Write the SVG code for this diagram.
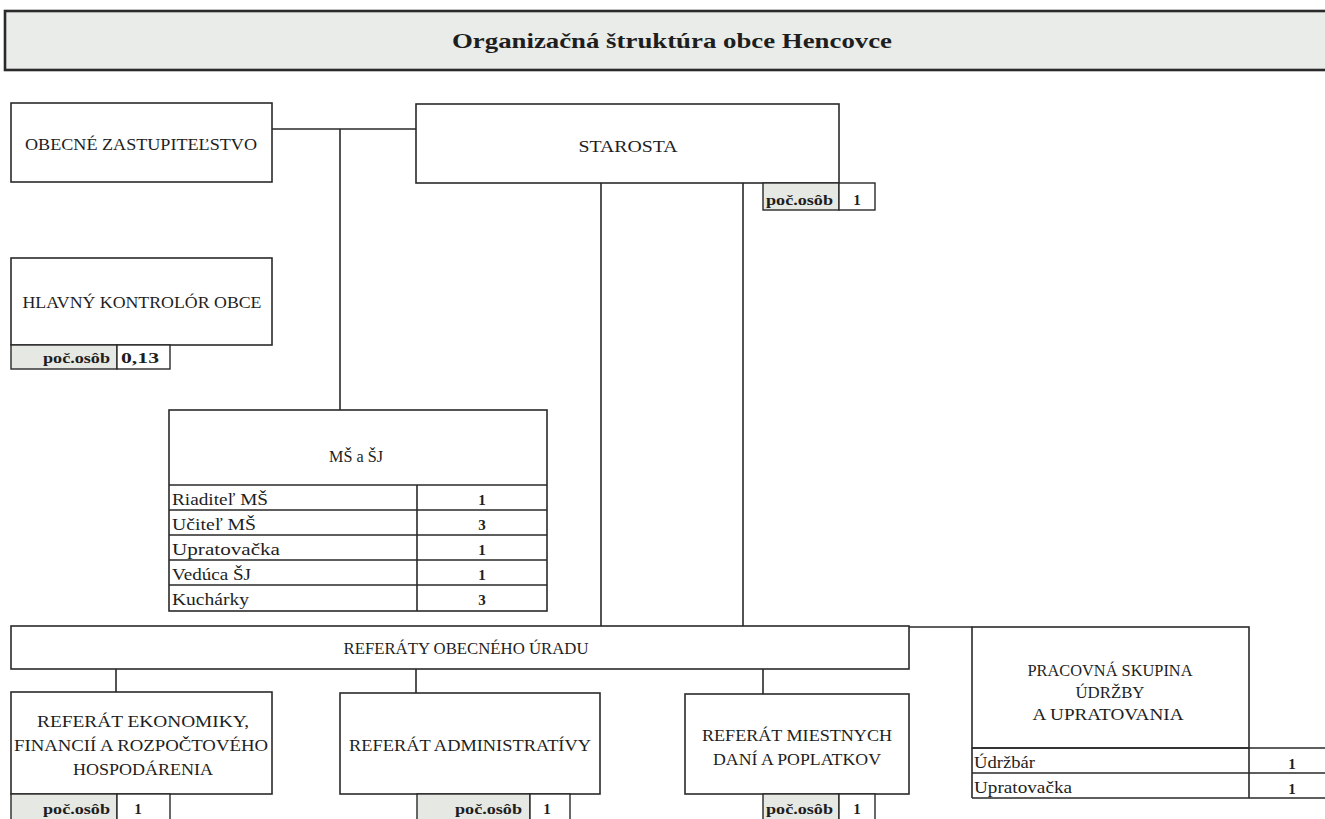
<svg xmlns="http://www.w3.org/2000/svg" width="1325" height="819" viewBox="0 0 1325 819">
<style>
.bx{fill:#fff;stroke:#2a2a2a;stroke-width:1.6}
.cell{fill:#e6e8e4;stroke:#2a2a2a;stroke-width:1.4}
.vcell{fill:#fff;stroke:#2a2a2a;stroke-width:1.4}
.ln{stroke:#2a2a2a;stroke-width:1.6;fill:none}
text{font-family:"Liberation Serif","DejaVu Serif",serif;fill:#1e1e1e}
.t{font-size:17px;text-anchor:middle}
.s{font-size:17px}
.sb{font-size:15px;font-weight:bold}
.c{text-anchor:middle}
.e{text-anchor:end}
</style>
<rect width="1325" height="819" fill="#fff"/>
<g id="title">
<rect x="5" y="11" width="1330" height="59" fill="#e9ece8" stroke="#2a2a2a" stroke-width="2.6"/>
<text x="672" y="48" font-size="21" font-weight="bold" text-anchor="middle" textLength="440" lengthAdjust="spacingAndGlyphs">Organizačná štruktúra obce Hencovce</text>
</g>
<g id="connectors">
<path class="ln" d="M272 129H416M340 129V410M601 183V626M743 183V626M909 627H972M116 669V692M416 669V693M763 669V694"/>
</g>
<g id="zastupitelstvo">
<rect class="bx" x="11" y="103" width="261" height="79"/>
<text class="t" x="141" y="150" textLength="232" lengthAdjust="spacingAndGlyphs">OBECNÉ ZASTUPITEĽSTVO</text>
</g>
<g id="starosta">
<rect class="bx" x="416" y="104" width="423" height="79"/>
<text class="t" x="628" y="152" textLength="99" lengthAdjust="spacingAndGlyphs">STAROSTA</text>
<rect class="cell" x="763" y="183" width="76" height="27"/>
<rect class="vcell" x="839" y="183" width="36" height="27"/>
<text class="sb" x="766" y="205" textLength="67" lengthAdjust="spacingAndGlyphs">poč.osôb</text>
<text class="sb c" x="857" y="205">1</text>
</g>
<g id="kontrolor">
<rect class="bx" x="11" y="258" width="261" height="87"/>
<text class="t" x="142" y="308" textLength="239" lengthAdjust="spacingAndGlyphs">HLAVNÝ KONTROLÓR OBCE</text>
<rect class="cell" x="11" y="345" width="106" height="24"/>
<rect class="vcell" x="117" y="345" width="53" height="24"/>
<text class="sb e" x="110" y="363" textLength="67" lengthAdjust="spacingAndGlyphs">poč.osôb</text>
<text class="sb" x="121" y="363" textLength="38" lengthAdjust="spacingAndGlyphs">0,13</text>
</g>
<g id="ms-sj">
<rect class="bx" x="169" y="410" width="378" height="201"/>
<text class="t" x="356" y="462" textLength="54" lengthAdjust="spacingAndGlyphs">MŠ a ŠJ</text>
<path class="ln" d="M169 485H547M169 510H547M169 535H547M169 560H547M169 585H547M417 485V611"/>
<text class="s" x="172" y="505" textLength="96" lengthAdjust="spacingAndGlyphs">Riaditeľ MŠ</text>
<text class="s" x="172" y="530" textLength="84" lengthAdjust="spacingAndGlyphs">Učiteľ MŠ</text>
<text class="s" x="172" y="555" textLength="108" lengthAdjust="spacingAndGlyphs">Upratovačka</text>
<text class="s" x="172" y="580" textLength="79" lengthAdjust="spacingAndGlyphs">Vedúca ŠJ</text>
<text class="s" x="172" y="605" textLength="77" lengthAdjust="spacingAndGlyphs">Kuchárky</text>
<text class="sb c" x="482" y="505">1</text>
<text class="sb c" x="482" y="530">3</text>
<text class="sb c" x="482" y="555">1</text>
<text class="sb c" x="482" y="580">1</text>
<text class="sb c" x="482" y="605">3</text>
</g>
<g id="referaty">
<rect class="bx" x="11" y="626" width="898" height="43"/>
<text class="t" x="466" y="654" textLength="245" lengthAdjust="spacingAndGlyphs">REFERÁTY OBECNÉHO ÚRADU</text>
</g>
<g id="skupina">
<rect class="bx" x="972" y="627" width="277" height="121"/>
<text class="t" x="1110" y="676" textLength="165" lengthAdjust="spacingAndGlyphs">PRACOVNÁ SKUPINA</text>
<text class="t" x="1110" y="698" textLength="69" lengthAdjust="spacingAndGlyphs">ÚDRŽBY</text>
<text class="t" x="1108" y="720" textLength="151" lengthAdjust="spacingAndGlyphs">A UPRATOVANIA</text>
<path class="ln" d="M972 748H1330M972 773H1330M972 798H1330M972 748V798M1249 748V798"/>
<text class="s" x="974" y="768" textLength="61" lengthAdjust="spacingAndGlyphs">Údržbár</text>
<text class="s" x="974" y="793" textLength="98" lengthAdjust="spacingAndGlyphs">Upratovačka</text>
<text class="sb c" x="1292" y="769">1</text>
<text class="sb c" x="1292" y="794">1</text>
</g>
<g id="ref-ekonomiky">
<rect class="bx" x="11" y="692" width="261" height="102"/>
<text class="t" x="143" y="727" textLength="212" lengthAdjust="spacingAndGlyphs">REFERÁT EKONOMIKY,</text>
<text class="t" x="141" y="751" textLength="254" lengthAdjust="spacingAndGlyphs">FINANCIÍ A ROZPOČTOVÉHO</text>
<text class="t" x="143" y="775" textLength="140" lengthAdjust="spacingAndGlyphs">HOSPODÁRENIA</text>
<rect class="cell" x="11" y="794" width="106" height="30"/>
<rect class="vcell" x="117" y="794" width="53" height="30"/>
<text class="sb e" x="110" y="814" textLength="67" lengthAdjust="spacingAndGlyphs">poč.osôb</text>
<text class="sb c" x="138" y="814">1</text>
</g>
<g id="ref-administrativy">
<rect class="bx" x="340" y="693" width="260" height="101"/>
<text class="t" x="470" y="751" textLength="242" lengthAdjust="spacingAndGlyphs">REFERÁT ADMINISTRATÍVY</text>
<rect class="cell" x="417" y="794" width="113" height="30"/>
<rect class="vcell" x="530" y="794" width="40" height="30"/>
<text class="sb e" x="522" y="814" textLength="67" lengthAdjust="spacingAndGlyphs">poč.osôb</text>
<text class="sb c" x="547" y="814">1</text>
</g>
<g id="ref-dani">
<rect class="bx" x="685" y="694" width="224" height="100"/>
<text class="t" x="797" y="741" textLength="190" lengthAdjust="spacingAndGlyphs">REFERÁT MIESTNYCH</text>
<text class="t" x="797" y="765" textLength="168" lengthAdjust="spacingAndGlyphs">DANÍ A POPLATKOV</text>
<rect class="cell" x="763" y="794" width="76" height="30"/>
<rect class="vcell" x="839" y="794" width="36" height="30"/>
<text class="sb" x="766" y="814" textLength="67" lengthAdjust="spacingAndGlyphs">poč.osôb</text>
<text class="sb c" x="857" y="814">1</text>
</g>
</svg>
